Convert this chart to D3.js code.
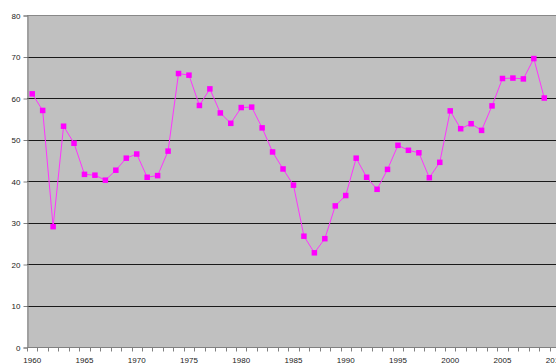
<!DOCTYPE html>
<html>
<head>
<meta charset="utf-8">
<script src="https://cdn.jsdelivr.net/npm/d3@7"></script>
<style>
  html, body { margin: 0; padding: 0; background: #fff; overflow: hidden; }
  svg { display: block; }
  text { font-family: Arial, "Liberation Sans", sans-serif; font-size: 8px; fill: #222; }
</style>
</head>
<body>
<svg id="chart" width="556" height="364"></svg>
<script>
// Annual series, 1960–2009 (the 2010 category is on the axis but has no value yet)
const years = d3.range(1960, 2011);
const values = [
  61.0, 57.0, 29.0, 53.2, 49.1, 41.6, 41.4, 40.2, 42.6, 45.5,
  46.5, 40.9, 41.3, 47.2, 65.9, 65.5, 58.2, 62.2, 56.4, 53.9,
  57.7, 57.8, 52.8, 47.0, 42.9, 39.0, 26.7, 22.7, 26.1, 34.0,
  36.5, 45.5, 40.9, 38.0, 42.8, 48.6, 47.4, 46.8, 40.8, 44.5,
  56.9, 52.6, 53.8, 52.2, 58.1, 64.7, 64.8, 64.6, 69.5, 60.0
];
const yTicks = [0, 10, 20, 30, 40, 50, 60, 70, 80];
const xLabelYears = [1960, 1965, 1970, 1975, 1980, 1985, 1990, 1995, 2000, 2005, 2010];

const svg = d3.select("#chart");
const plotLeft = 27, plotTop = 15, plotBottom = 347;
const step = 10.45;
const plotRight = plotLeft + years.length * step;

const x = d3.scaleBand().domain(years).range([plotLeft, plotRight]).paddingInner(0).paddingOuter(0);
const y = d3.scaleLinear().domain([0, 80]).range([plotBottom, plotTop]);

// plot area
svg.append("rect")
  .attr("x", plotLeft).attr("y", plotTop)
  .attr("width", plotRight - plotLeft).attr("height", plotBottom - plotTop)
  .attr("fill", "#c0c0c0");

// horizontal gridlines
svg.append("g")
  .selectAll("line")
  .data(yTicks.filter(t => t > 0 && t < 80))
  .join("line")
  .attr("x1", plotLeft).attr("x2", plotRight)
  .attr("y1", d => Math.round(y(d)) + 0.5).attr("y2", d => Math.round(y(d)) + 0.5)
  .attr("stroke", "#1a1a1a").attr("stroke-width", 1);

// top border
svg.append("line")
  .attr("x1", plotLeft).attr("x2", plotRight)
  .attr("y1", plotTop + 0.5).attr("y2", plotTop + 0.5)
  .attr("stroke", "#888");

// y axis
const yAxis = d3.axisLeft(y).tickValues(yTicks).tickSize(4).tickPadding(3);
const gy = svg.append("g").attr("transform", `translate(${plotLeft + 0.5},0.5)`).call(yAxis);
gy.select(".domain").attr("stroke", "#808080");
gy.selectAll(".tick line").attr("stroke", "#808080");
gy.selectAll(".tick text").attr("fill", "#222").style("font-size", "8px")
  .style("font-family", "Arial, 'Liberation Sans', sans-serif");

// x axis: ticks on category boundaries, labels every five years
const gx = svg.append("g").attr("transform", `translate(0,${plotBottom + 0.5})`);
gx.append("line")
  .attr("x1", plotLeft).attr("x2", plotRight).attr("y1", 0).attr("y2", 0)
  .attr("stroke", "#808080");
gx.selectAll("line.tk")
  .data(years.concat([2011]))
  .join("line")
  .attr("class", "tk")
  .attr("x1", d => Math.round(d === 2011 ? plotRight : x(d)) + 0.5)
  .attr("x2", d => Math.round(d === 2011 ? plotRight : x(d)) + 0.5)
  .attr("y1", 0).attr("y2", 4)
  .attr("stroke", "#808080");
gx.selectAll("text")
  .data(xLabelYears)
  .join("text")
  .attr("x", d => x(d) + x.bandwidth() / 2)
  .attr("y", 15)
  .attr("text-anchor", "middle")
  .text(d => d);

// series
const pts = values.map((v, i) => ({ year: years[i], v }));
const line = d3.line()
  .x(d => x(d.year) + x.bandwidth() / 2)
  .y(d => y(d.v));

svg.append("path")
  .datum(pts)
  .attr("d", line)
  .attr("fill", "none")
  .attr("stroke", "#ff33ff")
  .attr("stroke-width", 1);

const m = 5.5;
svg.append("g")
  .selectAll("rect")
  .data(pts)
  .join("rect")
  .attr("x", d => x(d.year) + x.bandwidth() / 2 - m / 2)
  .attr("y", d => y(d.v) - m / 2)
  .attr("width", m).attr("height", m)
  .attr("fill", "#ff00ff");
</script>
</body>
</html>
